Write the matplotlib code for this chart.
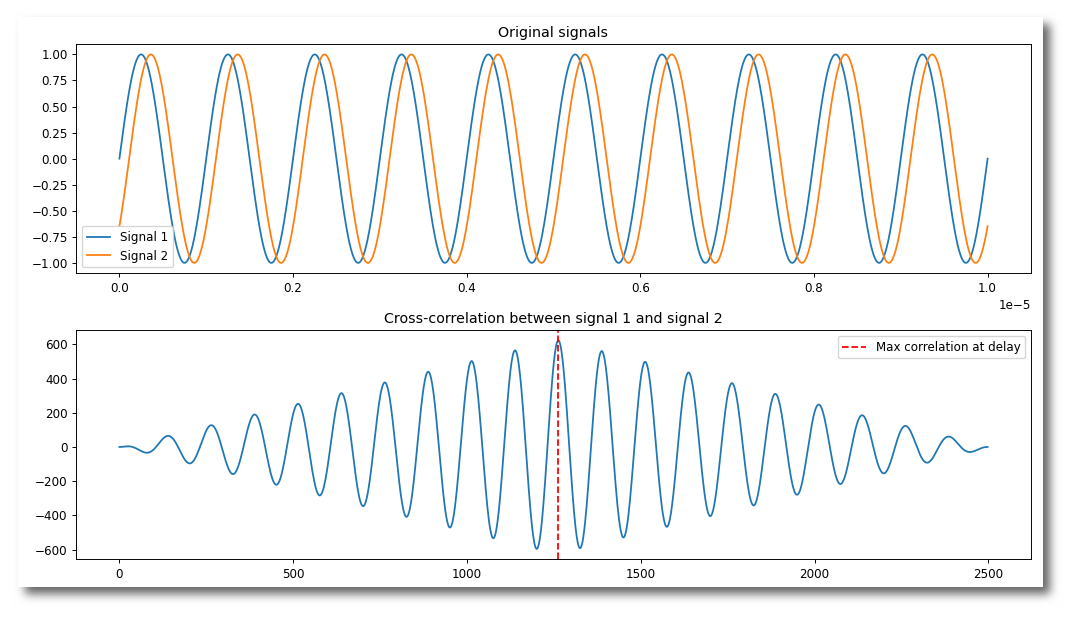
import numpy as np
import matplotlib
matplotlib.use("Agg")
import matplotlib.pyplot as plt
from matplotlib.ticker import MultipleLocator

# signal parameters
n_samples = 1250
duration = 1e-5          # seconds, x axis runs 0 .. 1.0e-5
freq = 1e6               # 10 periods over the window
phase_shift = 0.705      # signal 2 starts at about -0.65
labels = ["Signal 1", "Signal 2"]

t = np.linspace(0, duration, n_samples)
signal1 = np.sin(2 * np.pi * freq * t)
signal2 = np.sin(2 * np.pi * freq * t - phase_shift)
corr = np.correlate(signal2, signal1, mode="full")
max_delay = int(np.argmax(corr))

# the reference is a downscaled screenshot, so everything is ~0.85x
s = 0.854
plt.rcParams.update({
    "font.size": 10 * s,
    "lines.linewidth": 1.5 * s,
    "axes.linewidth": 0.8 * s,
    "axes.titlepad": 6 * s,
    "xtick.major.size": 3.5 * s,
    "ytick.major.size": 3.5 * s,
    "xtick.major.width": 0.8 * s,
    "ytick.major.width": 0.8 * s,
    "xtick.major.pad": 3.5 * s,
    "ytick.major.pad": 3.5 * s,
})

W, H = 1080, 624
fig = plt.figure(figsize=(W / 100, H / 100), dpi=100)

# screenshot card with a soft drop shadow
bg = fig.add_axes([0, 0, 1, 1], zorder=-10)
bg.set_axis_off()
card = (18, 17, 1043, 587)  # x0, y0, x1, y1 in pixels
mask = np.zeros((H, W))
off = 7
mask[card[1] + off:card[3] + off, card[0] + off:card[2] + off] = 1.0
k = np.ones(9) / 9
for _ in range(3):
    mask = np.apply_along_axis(lambda r: np.convolve(r, k, mode="same"), 1, mask)
    mask = np.apply_along_axis(lambda c: np.convolve(c, k, mode="same"), 0, mask)
shade = 1.0 - 0.6 * mask
shade[card[1]:card[3], card[0]:card[2]] = 1.0
img = np.dstack([shade, shade, shade])
bg.imshow(img, extent=[0, W, H, 0], aspect="auto", interpolation="bilinear")
bg.set_xlim(0, W)
bg.set_ylim(H, 0)

ax1 = fig.add_axes([76 / W, (H - 273.3) / H, 955 / W, 229.3 / H])
ax1.plot(t, signal1, label=labels[0])
ax1.plot(t, signal2, label=labels[1])
ax1.yaxis.set_major_locator(MultipleLocator(0.25))
ax1.set_title("Original signals")
ax1.legend(loc="lower left")

ax2 = fig.add_axes([76 / W, (H - 559.3) / H, 955 / W, 229.3 / H])
ax2.plot(corr)
ax2.axvline(max_delay, color="r", linestyle="--", label="Max correlation at delay")
ax2.set_title("Cross-correlation between signal 1 and signal 2")
ax2.legend(loc="upper right")

fig.savefig("out.png", dpi=100)
